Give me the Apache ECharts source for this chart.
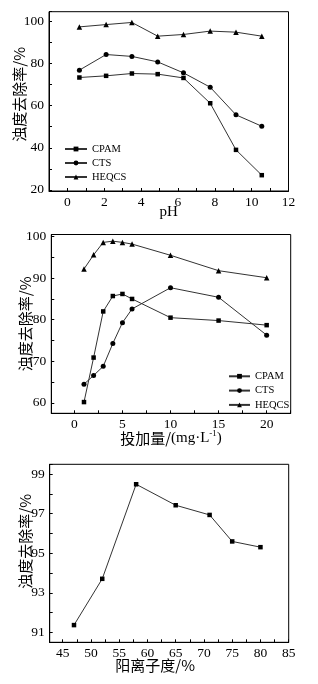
<!DOCTYPE html>
<html>
<head>
<meta charset="utf-8">
<script src="https://cdn.jsdelivr.net/npm/echarts@6/dist/echarts.min.js"></script>
<style>
html,body{margin:0;padding:0;background:#fff;}
#c{width:318px;height:684px;}
</style>
</head>
<body>
<div id="c"></div>
<script>
// ---- Chart 1: removal vs pH ----
const pH = [0.65, 2.1, 3.5, 4.9, 6.3, 7.75, 9.15, 10.55];
const pH_CPAM = [73.3, 74.1, 75.2, 74.9, 73.1, 61.1, 39.0, 27.0];
const pH_CTS = [76.8, 84.2, 83.3, 80.7, 75.5, 68.7, 55.6, 50.2];
const pH_HEQCS = [97.3, 98.4, 99.4, 92.9, 93.7, 95.3, 94.8, 92.9];

// ---- Chart 2: removal vs dosage ----
const dose = [1, 2, 3, 4, 5, 6, 10, 15, 20];
const dose_CPAM = [60.2, 70.9, 82.0, 85.7, 86.2, 85.0, 80.5, 79.8, 78.7];
const dose_CTS = [64.5, 66.6, 68.8, 74.3, 79.3, 82.6, 87.7, 85.4, 76.3];
const dose_HEQCS = [92.2, 95.6, 98.6, 98.9, 98.6, 98.2, 95.5, 91.8, 90.1];

// ---- Chart 3: removal vs cationic degree ----
const cation = [47, 52, 58, 65, 71, 75, 80];
const cation_removal = [91.37, 93.71, 98.49, 97.43, 96.94, 95.6, 95.31];

const seriesNames = ['CPAM', 'CTS', 'HEQCS'];
const yName = '浊度去除率/%';

const serif = '"Liberation Serif","Times New Roman",serif';
const cjk = '"Noto Sans CJK SC","Noto Sans",sans-serif';

function zip(xs, ys){ return xs.map((x,i)=>[x, ys[i]]); }

const axisCommon = {
  axisLine: {show: true, onZero: false, lineStyle: {color: '#000', width: 1}},
  axisTick: {show: true, inside: true, length: 3, lineStyle: {color: '#000'}},
  splitLine: {show: false},
  axisLabel: {color: '#000', fontFamily: serif, fontSize: 13.5},
  nameLocation: 'middle',
  nameMoveOverlap: false,
  nameTextStyle: {color: '#000', fontFamily: cjk, fontSize: 15}
};

function xAx(gi, min, max, step, labelStep, name, gap, extra){
  return Object.assign({}, axisCommon, {
    type: 'value', gridIndex: gi, min: min, max: max,
    minInterval: step, maxInterval: step, splitNumber: 20,
    name: name, nameGap: gap,
    axisLabel: Object.assign({}, axisCommon.axisLabel, {
      margin: 4,
      showMinLabel: true, showMaxLabel: true,
      formatter: function(v){
        const r = Math.round(v);
        if (Math.abs(v - r) > 1e-6) return '';
        return (r % labelStep === 0) ? String(r) : '';
      }
    })
  }, extra || {});
}
function yAx(gi, min, max, step, labelStep, labelBase, gap, extra){
  return Object.assign({}, axisCommon, {
    type: 'value', gridIndex: gi, min: min, max: max,
    minInterval: step, maxInterval: step, splitNumber: 20,
    name: yName, nameGap: gap,
    axisLabel: Object.assign({}, axisCommon.axisLabel, {
      margin: 5,
      formatter: function(v){
        const r = Math.round(v);
        if (Math.abs(v - r) > 1e-6) return '';
        return ((r - labelBase) % labelStep === 0) ? String(r) : '';
      }
    })
  }, extra || {});
}

const symbols = ['rect', 'circle', 'triangle'];
const symSizes = [4.5, 5, 5.5];
function mk(name, data, xi, yi, k){
  return {
    type: 'line', name: name, xAxisIndex: xi, yAxisIndex: yi,
    data: data, symbol: symbols[k], symbolSize: symSizes[k],
    showSymbol: true, animation: false,
    lineStyle: {color: '#333', width: 1},
    itemStyle: {color: '#000', borderColor: '#000', borderWidth: 0}
  };
}

const chart = echarts.init(document.getElementById('c'), null, {renderer: 'canvas'});
const legendText = {color: '#000', fontFamily: serif, fontSize: 10.5};
chart.setOption({
  backgroundColor: '#fff',
  animation: false,
  grid: [
    {left: 49, top: 11.7, width: 239.5, height: 179.3, show: true, borderColor: '#000', borderWidth: 1},
    {left: 51.3, top: 234.5, width: 239.4, height: 178.8, show: true, borderColor: '#000', borderWidth: 1},
    {left: 49.7, top: 464.3, width: 239, height: 178, show: true, borderColor: '#000', borderWidth: 1}
  ],
  legend: [
    {orient: 'vertical', left: 64, top: 143.5, padding: 0, itemWidth: 22, itemHeight: 6, itemGap: 3,
     data: seriesNames, textStyle: legendText, selectedMode: false},
    {orient: 'vertical', left: 228, top: 370.8, padding: 0, itemWidth: 21, itemHeight: 6, itemGap: 3.3,
     data: seriesNames, textStyle: legendText, selectedMode: false}
  ],
  xAxis: [
    xAx(0, -1, 12, 1, 2, 'pH', 14, {nameTextStyle: {color: '#000', fontFamily: serif, fontSize: 15}}),
    xAx(1, -2.4, 22.5, 2.5, 5, '{a|投加量/}{b|(mg·L}{s|-1}{b|)}', 16, {
      nameTextStyle: {color: '#000', rich: {
        a: {fontFamily: cjk, fontSize: 15, color: '#000'},
        b: {fontFamily: serif, fontSize: 15, color: '#000'},
        s: {fontFamily: serif, fontSize: 9, color: '#000', padding: [0,0,8,0]}
      }}
    }),
    xAx(2, 42.7, 85, 2.5, 5, '阳离子度/%', 15, {
      nameTextStyle: {color: '#000', fontFamily: cjk, fontSize: 15, padding: [0, 28, 0, 0]}
    })
  ],
  yAxis: [
    yAx(0, 19.5, 104.5, 10, 20, 0, 22, {
      nameTextStyle: {color: '#000', fontFamily: cjk, fontSize: 15, padding: [0, 0, 0, 14]}
    }),
    yAx(1, 57.5, 100.5, 5, 10, 0, 19),
    yAx(2, 90.5, 99.5, 1, 2, 1, 17, {
      nameTextStyle: {color: '#000', fontFamily: cjk, fontSize: 15, padding: [0, 0, 0, 24]}
    })
  ],
  series: [
    mk('CPAM', zip(pH, pH_CPAM), 0, 0, 0),
    mk('CTS', zip(pH, pH_CTS), 0, 0, 1),
    mk('HEQCS', zip(pH, pH_HEQCS), 0, 0, 2),
    mk('CPAM', zip(dose, dose_CPAM), 1, 1, 0),
    mk('CTS', zip(dose, dose_CTS), 1, 1, 1),
    mk('HEQCS', zip(dose, dose_HEQCS), 1, 1, 2),
    mk('阳离子度', zip(cation, cation_removal), 2, 2, 0)
  ]
});
</script>
</body>
</html>
